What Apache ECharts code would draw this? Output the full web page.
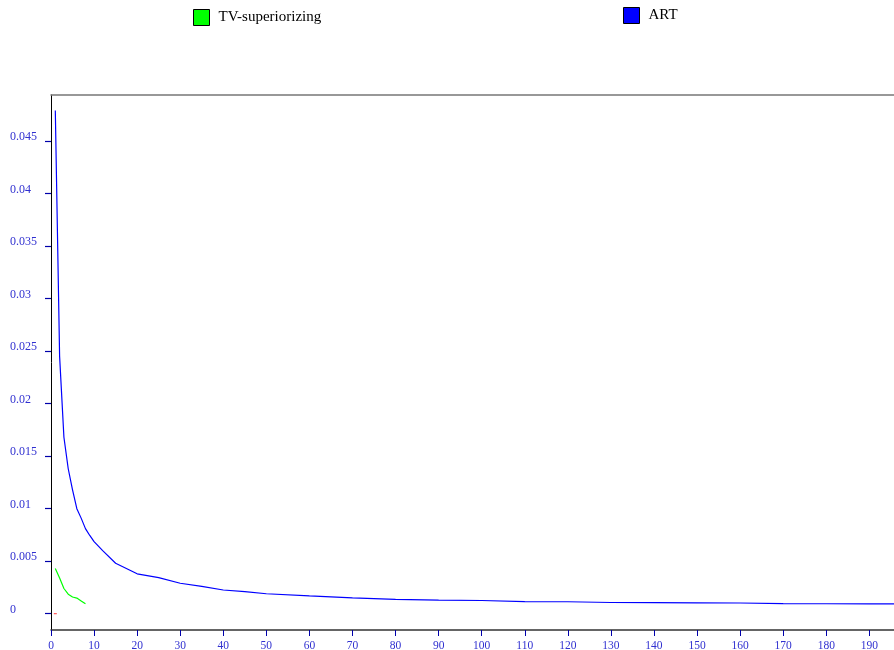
<!DOCTYPE html>
<html>
<head>
<meta charset="utf-8">
<script src="https://cdn.jsdelivr.net/npm/echarts@6/dist/echarts.min.js"></script>
<style>
  html, body { margin: 0; padding: 0; background: #fff; overflow: hidden; }
  #chart { width: 894px; height: 650px; }
</style>
</head>
<body>
<div id="chart"></div>
<script>
// Reconstruction error per iteration
const iterations = [1, 2, 3, 4, 5, 6, 7, 8, 9, 10, 12, 15, 20, 25, 30, 35, 40, 45, 50,
  60, 70, 80, 90, 100, 110, 120, 130, 140, 150, 160, 170, 180, 190, 200];
const artError = [0.0479, 0.0245, 0.0168, 0.0138, 0.0118, 0.0100, 0.0091, 0.0081, 0.00745, 0.00686,
  0.0060, 0.0048, 0.0038, 0.00344, 0.0029, 0.0026, 0.00226, 0.0021, 0.0019,
  0.00169, 0.0015, 0.00137, 0.0013, 0.00126, 0.00116, 0.00114, 0.00107, 0.00105, 0.00104, 0.00102,
  0.00096, 0.00095, 0.00094, 0.00093];

const tvIterations = [1, 2, 3, 4, 5, 6, 7, 8];
const tvError = [0.0043, 0.0034, 0.0024, 0.00186, 0.00159, 0.00149, 0.00122, 0.00095];

const markIterations = [1];
const markValues = [0];

const yTicks = [0, 0.005, 0.01, 0.015, 0.02, 0.025, 0.03, 0.035, 0.04, 0.045];

const zip = (xs, ys) => xs.map((x, i) => [x, ys[i]]);

const serif = 'Liberation Serif';
const labelBlue = '#3030d0';
const tickBlue = '#0000aa';

const chart = echarts.init(document.getElementById('chart'), null, { renderer: 'canvas' });

chart.setOption({
  animation: false,
  backgroundColor: '#fff',
  legend: [
    {
      left: 188, top: 4,
      itemWidth: 16, itemHeight: 16,
      selectedMode: false,
      textStyle: { fontFamily: serif, fontSize: 15, color: '#000', padding: [0, 0, 0, 4] },
      data: [{ name: 'TV-superiorizing', icon: 'rect',
        itemStyle: { color: '#00ff00', borderColor: '#000', borderWidth: 1 } }]
    },
    {
      left: 618, top: 2,
      itemWidth: 16, itemHeight: 16,
      selectedMode: false,
      textStyle: { fontFamily: serif, fontSize: 15, color: '#000', padding: [0, 0, 0, 4] },
      data: [{ name: 'ART', icon: 'rect',
        itemStyle: { color: '#0000ff', borderColor: '#000', borderWidth: 1 } }]
    }
  ],
  // the plot box runs past the right edge of the canvas
  grid: { left: 51, top: 95, width: 861.4, height: 535, outerBoundsMode: 'none', containLabel: false },
  xAxis: [
    {
      type: 'value', min: 0, max: 200, interval: 10,
      position: 'bottom',
      axisLine: { show: true, onZero: false, lineStyle: { color: '#333', width: 1.5 } },
      axisTick: { show: true, length: 6, lineStyle: { color: tickBlue, width: 1 } },
      axisLabel: { color: labelBlue, fontFamily: serif, fontSize: 11.5, margin: 10 },
      splitLine: { show: false }
    },
    {
      type: 'value', min: 0, max: 200,
      position: 'top',
      axisLine: { show: true, onZero: false, lineStyle: { color: '#777', width: 1.5 } },
      axisTick: { show: false },
      axisLabel: { show: false },
      splitLine: { show: false }
    }
  ],
  yAxis: {
    type: 'value', min: -0.00155, max: 0.04938,
    axisLine: { show: true, onZero: false, lineStyle: { color: '#000', width: 1 } },
    axisTick: { show: true, length: 6, customValues: yTicks, lineStyle: { color: tickBlue, width: 1.2 } },
    axisLabel: {
      customValues: yTicks,
      formatter: v => String(v),
      color: labelBlue, fontFamily: serif, fontSize: 12,
      align: 'left', margin: 41,
      verticalAlign: 'bottom', lineHeight: 8
    },
    splitLine: { show: false }
  },
  series: [
    {
      name: 'TV-superiorizing', type: 'line',
      data: zip(tvIterations, tvError),
      showSymbol: false, symbol: 'none',
      lineStyle: { color: '#00ff00', width: 1.2 },
      itemStyle: { color: '#00ff00' }
    },
    {
      name: 'ART', type: 'line',
      data: zip(iterations, artError),
      showSymbol: false, symbol: 'none',
      lineStyle: { color: '#0000ff', width: 1.2 },
      itemStyle: { color: '#0000ff' }
    },
    {
      name: 'start', type: 'scatter',
      data: zip(markIterations, markValues),
      symbol: 'rect', symbolSize: [3, 1],
      itemStyle: { color: '#ff0000' }
    }
  ]
});
</script>
</body>
</html>
